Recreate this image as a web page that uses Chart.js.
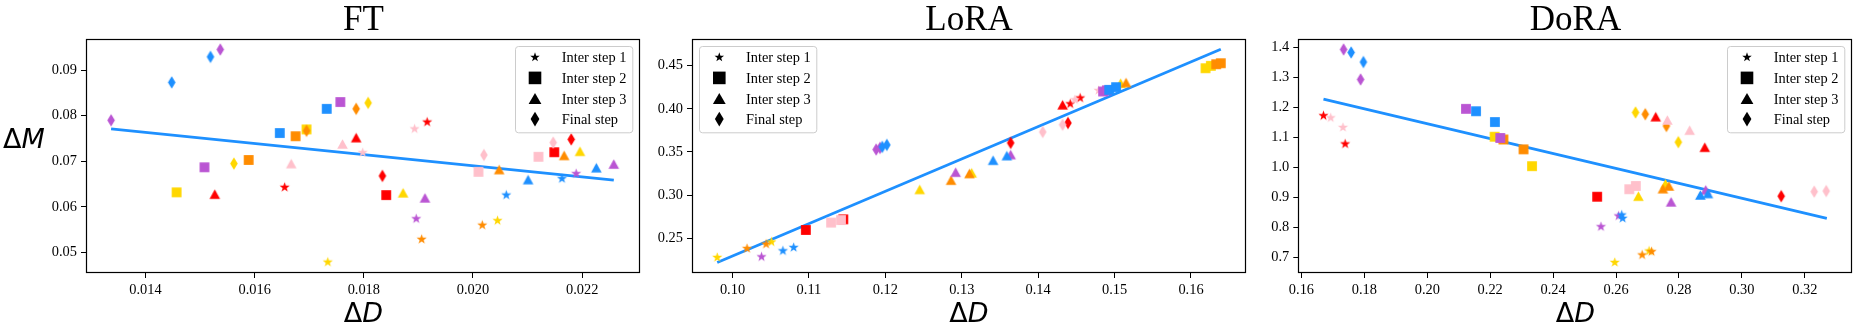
<!DOCTYPE html>
<html>
<head>
<meta charset="utf-8">
<script src="https://cdn.jsdelivr.net/npm/chart.js@4.4.0/dist/chart.umd.min.js"></script>
<style>
  body { margin: 0; background: #fff; }
  #wrap { position: relative; width: 1858px; height: 327px; overflow: hidden; }
  canvas { position: absolute; top: 0; }
  .title { position: absolute; top: 0.7px; width: 200px; text-align: center; font: 35px/35px 'Liberation Serif', serif; color: #000; }
  .xlab { position: absolute; top: 299px; width: 100px; text-align: center; font: 27px/27px 'DejaVu Sans', sans-serif; color: #000; }
  .ylab { position: absolute; left: 3px; top: 125px; font: 27px/27px 'DejaVu Sans', sans-serif; color: #000; }
</style>
</head>
<body>
<div id="wrap">
  <canvas id="ft" width="646" height="327" style="left:0px"></canvas>
  <canvas id="lora" width="606" height="327" style="left:646px"></canvas>
  <canvas id="dora" width="606" height="327" style="left:1252px"></canvas>
  <div class="title" style="left:263.5px">FT</div>
  <div class="title" style="left:869px">LoRA</div>
  <div class="title" style="left:1475.5px">DoRA</div>
  <div class="xlab" style="left:313.5px">Δ<i>D</i></div>
  <div class="xlab" style="left:919px">Δ<i>D</i></div>
  <div class="xlab" style="left:1525.5px">Δ<i>D</i></div>
  <div class="ylab">Δ<i>M</i></div>
</div>
<script>
// legend entries, one marker per step
const stepLabels = ['Inter step 1', 'Inter step 2', 'Inter step 3', 'Final step'];
const stepShapes = ['star', 'square', 'triangle', 'diamond'];

// series colours (drawn in this order, last on top)
const colorOrder = ['red', 'gold', 'orange', 'pink', 'purple', 'blue'];
const palette = { red: '#ff0000', gold: '#ffd700', orange: '#ff8c00', pink: '#ffc0cb', purple: '#ba55d3', blue: '#1e90ff' };

// ---- FT : [dD, dM, series] ----
const ftStep1 = [[0.01655, 0.0643, 'red'], [0.01916, 0.0786, 'red'], [0.01893, 0.0771, 'pink'], [0.01798, 0.0719, 'pink'],
  [0.01906, 0.0529, 'orange'], [0.02017, 0.0560, 'orange'], [0.01734, 0.0479, 'gold'], [0.02045, 0.0570, 'gold'],
  [0.01896, 0.0574, 'purple'], [0.02189, 0.0673, 'purple'], [0.02061, 0.0626, 'blue'], [0.02163, 0.0662, 'blue']];
const ftStep2 = [[0.01841, 0.0626, 'red'], [0.02149, 0.0720, 'red'], [0.02010, 0.0677, 'pink'], [0.02120, 0.0710, 'pink'],
  [0.01675, 0.0755, 'orange'], [0.01589, 0.0703, 'orange'], [0.01457, 0.0632, 'gold'], [0.01695, 0.0770, 'gold'],
  [0.01508, 0.0687, 'purple'], [0.01757, 0.0830, 'purple'], [0.01646, 0.0762, 'blue'], [0.01732, 0.0815, 'blue']];
const ftStep3 = [[0.01527, 0.0628, 'red'], [0.01786, 0.0752, 'red'], [0.01667, 0.0695, 'pink'], [0.01761, 0.0738, 'pink'],
  [0.02048, 0.0682, 'orange'], [0.02167, 0.0713, 'orange'], [0.01872, 0.0631, 'gold'], [0.02196, 0.0722, 'gold'],
  [0.01912, 0.0620, 'purple'], [0.02258, 0.0694, 'purple'], [0.02101, 0.0660, 'blue'], [0.02226, 0.0686, 'blue']];
const ftStep4 = [[0.01834, 0.0668, 'red'], [0.02180, 0.0748, 'red'], [0.02020, 0.0714, 'pink'], [0.02147, 0.0741, 'pink'],
  [0.01695, 0.0767, 'orange'], [0.01786, 0.0815, 'orange'], [0.01562, 0.0695, 'gold'], [0.01808, 0.0828, 'gold'],
  [0.01337, 0.0790, 'purple'], [0.01537, 0.0945, 'purple'], [0.01448, 0.0873, 'blue'], [0.01519, 0.0929, 'blue']];
const ftFitX = [0.01337, 0.02258];
const ftFitY = [0.0771, 0.0659];
const ftXTicks = [0.014, 0.016, 0.018, 0.020, 0.022];
const ftYTicks = [0.05, 0.06, 0.07, 0.08, 0.09];

// ---- LoRA ----
const loraStep1 = [[0.0980, 0.2277, 'gold'], [0.1051, 0.2457, 'gold'], [0.1019, 0.2381, 'orange'], [0.1044, 0.2431, 'orange'],
  [0.1038, 0.2284, 'purple'], [0.1066, 0.2354, 'blue'], [0.1080, 0.2392, 'blue'],
  [0.1442, 0.4058, 'red'], [0.1455, 0.4125, 'red'], [0.1448, 0.4105, 'pink'], [0.1479, 0.4213, 'pink']];
const loraStep2 = [[0.1096, 0.2596, 'red'], [0.1145, 0.2719, 'red'], [0.1129, 0.2681, 'pink'], [0.1142, 0.2711, 'pink'],
  [0.1485, 0.4201, 'purple'], [0.1490, 0.4215, 'purple'], [0.1493, 0.4220, 'blue'], [0.1502, 0.4251, 'blue'],
  [0.1619, 0.4471, 'gold'], [0.1626, 0.4498, 'gold'], [0.1633, 0.4517, 'orange'], [0.1639, 0.4529, 'orange']];
const loraStep3 = [[0.1245, 0.3066, 'gold'], [0.1313, 0.3259, 'gold'], [0.1508, 0.4298, 'gold'],
  [0.1286, 0.3173, 'orange'], [0.1310, 0.3251, 'orange'], [0.1515, 0.4305, 'orange'],
  [0.1292, 0.3266, 'purple'], [0.1364, 0.3470, 'purple'], [0.1341, 0.3404, 'blue'], [0.1359, 0.3458, 'blue'],
  [0.1432, 0.4047, 'red']];
const loraStep4 = [[0.1188, 0.3528, 'purple'], [0.1193, 0.3547, 'purple'], [0.1196, 0.3559, 'blue'], [0.1202, 0.3582, 'blue'],
  [0.1364, 0.3605, 'red'], [0.1439, 0.3836, 'red'], [0.1406, 0.3732, 'pink'], [0.1432, 0.3816, 'pink']];
const loraFitX = [0.0980, 0.1639];
const loraFitY = [0.2219, 0.4691];
const loraXTicks = [0.10, 0.11, 0.12, 0.13, 0.14, 0.15, 0.16];
const loraYTicks = [0.25, 0.30, 0.35, 0.40, 0.45];

// ---- DoRA ----
const doraStep1 = [[0.1670, 1.172, 'red'], [0.1739, 1.078, 'red'], [0.1693, 1.165, 'pink'], [0.1732, 1.133, 'pink'],
  [0.2608, 0.838, 'purple'], [0.2552, 0.802, 'purple'], [0.2621, 0.830, 'blue'], [0.2618, 0.841, 'blue'],
  [0.2596, 0.683, 'gold'], [0.2705, 0.721, 'gold'], [0.2683, 0.708, 'orange'], [0.2713, 0.719, 'orange']];
const doraStep2 = [[0.2214, 1.102, 'gold'], [0.2333, 1.004, 'gold'], [0.2242, 1.093, 'orange'], [0.2306, 1.060, 'orange'],
  [0.2123, 1.195, 'purple'], [0.2232, 1.098, 'purple'], [0.2155, 1.187, 'blue'], [0.2215, 1.151, 'blue'],
  [0.2540, 0.902, 'red'], [0.2642, 0.927, 'pink'], [0.2663, 0.938, 'pink']];
const doraStep3 = [[0.2726, 1.169, 'red'], [0.2882, 1.067, 'red'], [0.2763, 1.158, 'pink'], [0.2834, 1.124, 'pink'],
  [0.2671, 0.904, 'gold'], [0.2757, 0.945, 'gold'], [0.2749, 0.929, 'orange'], [0.2768, 0.938, 'orange'],
  [0.2775, 0.885, 'purple'], [0.2885, 0.925, 'purple'], [0.2868, 0.908, 'blue'], [0.2892, 0.913, 'blue']];
const doraStep4 = [[0.1734, 1.393, 'purple'], [0.1788, 1.293, 'purple'], [0.1758, 1.383, 'blue'], [0.1797, 1.351, 'blue'],
  [0.2662, 1.183, 'gold'], [0.2798, 1.084, 'gold'], [0.2693, 1.177, 'orange'], [0.2760, 1.138, 'orange'],
  [0.3125, 0.904, 'red'], [0.3230, 0.919, 'pink'], [0.3268, 0.921, 'pink']];
const doraFitX = [0.1670, 0.3270];
const doraFitY = [1.2277, 0.8300];
const doraXTicks = [0.16, 0.18, 0.20, 0.22, 0.24, 0.26, 0.28, 0.30, 0.32];
const doraYTicks = [0.7, 0.8, 0.9, 1.0, 1.1, 1.2, 1.3, 1.4];

// marker sizes (px) for plot points and legend
const markerSize = { star: { w: 10.6, h: 10.6 }, square: { w: 9.8, h: 9.8 }, triangle: { w: 10.6, h: 9.4 }, diamond: { w: 7.6, h: 12.6 } };
const legendSize = { star: { w: 10, h: 10 }, square: { w: 12.6, h: 12.6 }, triangle: { w: 12.8, h: 11 }, diamond: { w: 8.8, h: 14.8 } };

function traceShape(c, shape, x, y, w, h) {
  c.beginPath();
  if (shape === 'square') {
    c.rect(x - w / 2, y - h / 2, w, h);
  } else if (shape === 'triangle') {
    c.moveTo(x, y - h / 2); c.lineTo(x + w / 2, y + h / 2); c.lineTo(x - w / 2, y + h / 2); c.closePath();
  } else if (shape === 'diamond') {
    c.moveTo(x, y - h / 2); c.lineTo(x + w / 2, y); c.lineTo(x, y + h / 2); c.lineTo(x - w / 2, y); c.closePath();
  } else {
    const R = h / 2, r = R * 0.40;
    for (let k = 0; k < 10; k++) {
      const a = -Math.PI / 2 + k * Math.PI / 5;
      const rr = k % 2 ? r : R;
      const px = x + rr * Math.cos(a), py = y + rr * Math.sin(a);
      if (k) c.lineTo(px, py); else c.moveTo(px, py);
    }
    c.closePath();
  }
}

const cache = {};
function marker(shape, color) {
  const key = shape + color;
  if (cache[key]) return cache[key];
  const sz = markerSize[shape];
  const cv = document.createElement('canvas');
  cv.width = Math.ceil(sz.w) + 2;
  cv.height = Math.ceil(sz.h) + 2;
  const c = cv.getContext('2d');
  traceShape(c, shape, cv.width / 2, cv.height / 2, sz.w, sz.h);
  c.fillStyle = color;
  c.fill();
  cache[key] = cv;
  return cv;
}

function buildDatasets(steps, fitX, fitY) {
  const sets = colorOrder.map(name => {
    const pts = [], styles = [];
    steps.forEach((arr, s) => arr.forEach(p => {
      if (p[2] === name) {
        pts.push({ x: p[0], y: p[1] });
        styles.push(marker(stepShapes[s], palette[name]));
      }
    }));
    return { label: name, data: pts, pointStyle: styles, pointRadius: 5, pointHoverRadius: 5 };
  });
  sets.reverse(); // first dataset ends up on top
  sets.push({
    label: 'fit', data: fitX.map((x, i) => ({ x: x, y: fitY[i] })), showLine: true,
    borderColor: palette.blue, borderWidth: 2.8, pointRadius: 0, fill: false
  });
  return sets;
}

const framePlugin = {
  id: 'frame',
  afterDraw(chart) {
    const a = chart.chartArea, ctx = chart.ctx;
    const l = Math.round(a.left) + 0.5, r = Math.round(a.right) - 0.5;
    const t = Math.round(a.top) + 0.5, b = Math.round(a.bottom) - 0.5;
    ctx.save();
    ctx.strokeStyle = '#000';
    ctx.lineWidth = 1.2;
    ctx.strokeRect(l, t, r - l, b - t);
    ctx.restore();
  }
};

const legendPlugin = {
  id: 'stepLegend',
  afterDraw(chart, args, opts) {
    const a = chart.chartArea, ctx = chart.ctx;
    const w = 117.3, h = 86.3;
    const left = opts.side === 'left' ? a.left + 7.3 : a.right - 7.7 - w;
    const top = a.top + 7.3;
    ctx.save();
    ctx.beginPath();
    ctx.roundRect(Math.round(left) + 0.5, Math.round(top) + 0.5, w, h, 3);
    ctx.fillStyle = 'rgba(255,255,255,0.8)';
    ctx.fill();
    ctx.strokeStyle = '#cccccc';
    ctx.lineWidth = 1;
    ctx.stroke();
    ctx.font = "14.4px 'Liberation Serif'";
    ctx.fillStyle = '#000';
    ctx.textBaseline = 'alphabetic';
    stepLabels.forEach((lab, i) => {
      const y = top + 11.3 + i * 20.6;
      const sz = legendSize[stepShapes[i]];
      traceShape(ctx, stepShapes[i], left + 20, y, sz.w, sz.h);
      ctx.fill();
      ctx.fillText(lab, left + 46.7, y + 5);
    });
    ctx.restore();
  }
};

function axis(min, max, ticks, dec, fit) {
  return {
    type: 'linear', min: min, max: max,
    afterBuildTicks: s => { s.ticks = ticks.map(v => ({ value: v })); },
    afterFit: fit,
    border: { display: false },
    grid: { drawOnChartArea: false, drawTicks: true, tickLength: 5, color: '#000', lineWidth: 1 },
    ticks: {
      color: '#000', padding: 4, autoSkip: false, maxRotation: 0,
      font: { family: 'Liberation Serif', size: 14.4 },
      callback: v => Number(v).toFixed(dec)
    }
  };
}

function makePanel(id, o) {
  return new Chart(document.getElementById(id), {
    type: 'scatter',
    data: { datasets: buildDatasets(o.steps, o.fitX, o.fitY) },
    options: {
      responsive: false, animation: false, events: [],
      layout: { padding: o.pad },
      plugins: { legend: { display: false }, tooltip: { enabled: false }, stepLegend: { side: o.side } },
      scales: {
        x: axis(o.xMin, o.xMax, o.xTicks, o.xDec, s => { s.height = 54; }),
        y: axis(o.yMin, o.yMax, o.yTicks, o.yDec, s => { s.width = o.yWidth; })
      }
    },
    plugins: [framePlugin, legendPlugin]
  });
}

makePanel('ft', {
  steps: [ftStep1, ftStep2, ftStep3, ftStep4], fitX: ftFitX, fitY: ftFitY,
  xMin: 0.01291, xMax: 0.02306, yMin: 0.04552, yMax: 0.09688,
  xTicks: ftXTicks, yTicks: ftYTicks, xDec: 3, yDec: 2,
  pad: { left: 36, right: 5, top: 38.7, bottom: 0 }, yWidth: 50, side: 'right'
});
makePanel('lora', {
  steps: [loraStep1, loraStep2, loraStep3, loraStep4], fitX: loraFitX, fitY: loraFitY,
  xMin: 0.0947, xMax: 0.1672, yMin: 0.2097, yMax: 0.4813,
  xTicks: loraXTicks, yTicks: loraYTicks, xDec: 2, yDec: 2,
  pad: { left: 0, right: 6, top: 38.7, bottom: 0 }, yWidth: 46, side: 'left'
});
makePanel('dora', {
  steps: [doraStep1, doraStep2, doraStep3, doraStep4], fitX: doraFitX, fitY: doraFitY,
  xMin: 0.159, xMax: 0.335, yMin: 0.6478, yMax: 1.4288,
  xTicks: doraXTicks, yTicks: doraYTicks, xDec: 2, yDec: 1,
  pad: { left: 0.3, right: 5.3, top: 38.7, bottom: 0 }, yWidth: 46, side: 'right'
});
</script>
</body>
</html>
